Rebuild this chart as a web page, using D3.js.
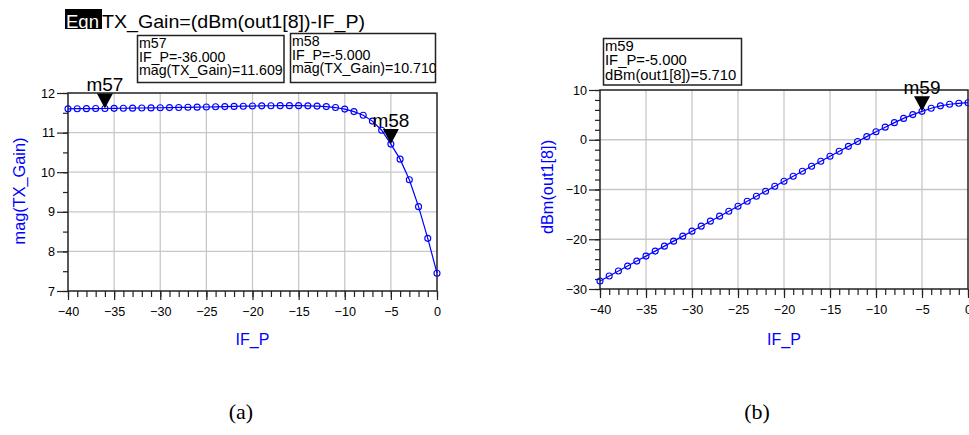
<!DOCTYPE html>
<html><head><meta charset="utf-8">
<script src="https://d3js.org/d3.v7.min.js"></script>
<style>
  body { margin: 0; background: #fff; }
  svg { font-family: "Liberation Sans", Arial, sans-serif; }
</style>
</head>
<body>
<div id="chart"></div>
<script>
// ---------------- data ----------------
var ifP = [-40,-39,-38,-37,-36,-35,-34,-33,-32,-31,-30,-29,-28,-27,-26,-25,-24,-23,-22,-21,
           -20,-19,-18,-17,-16,-15,-14,-13,-12,-11,-10,-9,-8,-7,-6,-5,-4,-3,-2,-1,0];

var txGain = [11.600,11.603,11.605,11.607,11.609,11.612,11.615,11.618,11.621,11.624,
              11.627,11.631,11.635,11.639,11.643,11.647,11.652,11.657,11.662,11.667,
              11.671,11.675,11.678,11.680,11.681,11.680,11.676,11.669,11.656,11.633,
              11.594,11.530,11.440,11.290,11.060,10.710,10.330,9.810,9.130,8.330,7.450];

var outDbm = [-28.400,-27.397,-26.395,-25.393,-24.391,-23.388,-22.385,-21.382,-20.379,-19.376,
              -18.373,-17.369,-16.365,-15.361,-14.357,-13.353,-12.348,-11.343,-10.338,-9.333,
              -8.329,-7.325,-6.322,-5.320,-4.319,-3.320,-2.324,-1.331,-0.344,0.633,
              1.594,2.530,3.440,4.290,5.060,5.710,6.330,6.810,7.130,7.330,7.450];

var xTicks = [-40,-35,-30,-25,-20,-15,-10,-5,0];
var gainTicks = [7,8,9,10,11,12];
var outTicks = [-30,-20,-10,0,10];

var markersA = [
  {name: "m57", x: -36, y: 11.609, lines: ["m57", "IF_P=-36.000", "mag(TX_Gain)=11.609"]},
  {name: "m58", x: -5, y: 10.710, lines: ["m58", "IF_P=-5.000", "mag(TX_Gain)=10.710"]}
];
var markersB = [
  {name: "m59", x: -5, y: 5.710, lines: ["m59", "IF_P=-5.000", "dBm(out1[8])=5.710"]}
];

var width = 969, height = 435;
var blue = "#0000ff";

var svg = d3.select("#chart").append("svg")
  .attr("width", width)
  .attr("height", height);

svg.append("rect").attr("width", width).attr("height", height).attr("fill", "#fff");

function panel(opt) {
  var x = d3.scaleLinear().domain([-40, 0]).range(opt.xr);
  var y = d3.scaleLinear().domain(opt.yd).range(opt.yr);
  var g = svg.append("g");

  // grid
  g.append("g").selectAll("line").data(xTicks.slice(1, -1)).enter().append("line")
    .attr("x1", d => x(d)).attr("x2", d => x(d))
    .attr("y1", opt.yr[0]).attr("y2", opt.yr[1])
    .attr("stroke", "#c8c8c8").attr("stroke-width", 1.3);
  g.append("g").selectAll("line").data(opt.yTicks.slice(1, -1)).enter().append("line")
    .attr("y1", d => y(d)).attr("y2", d => y(d))
    .attr("x1", opt.xr[0]).attr("x2", opt.xr[1])
    .attr("stroke", "#c8c8c8").attr("stroke-width", 1.3);

  // minor ticks
  var minorX = d3.range(-40, 1, 1);
  g.append("g").attr("transform", "translate(0," + opt.yr[0] + ")")
    .call(d3.axisBottom(x).tickValues(minorX).tickSize(6).tickFormat(""))
    .call(a => a.select(".domain").remove());
  g.append("g").attr("transform", "translate(" + opt.xr[0] + ",0)")
    .call(d3.axisLeft(y).tickValues(d3.range(opt.yd[0], opt.yd[1] + 0.001, opt.yMinor)).tickSize(5).tickFormat(""))
    .call(a => a.select(".domain").remove());

  // major ticks
  var ax = g.append("g").attr("transform", "translate(0," + opt.yr[0] + ")")
    .call(d3.axisBottom(x).tickValues(xTicks).tickSize(9).tickPadding(7).tickFormat(d3.format("d")));
  var ay = g.append("g").attr("transform", "translate(" + opt.xr[0] + ",0)")
    .call(d3.axisLeft(y).tickValues(opt.yTicks).tickSize(11).tickPadding(2).tickFormat(d3.format("d")));
  [ax, ay].forEach(function (a) {
    a.select(".domain").remove();
    a.attr("font-family", null).attr("font-size", null);
    a.selectAll("text").style("font-size", "12.6px").attr("fill", "#000");
  });
  g.selectAll(".tick line").attr("stroke", "#222").attr("stroke-width", 1.2);

  // frame
  g.append("rect")
    .attr("x", opt.xr[0]).attr("y", opt.yr[1])
    .attr("width", opt.xr[1] - opt.xr[0]).attr("height", opt.yr[0] - opt.yr[1])
    .attr("fill", "none").attr("stroke", "#222").attr("stroke-width", 1.5);

  // series
  var line = d3.line().x((d, i) => x(ifP[i])).y(d => y(d));
  g.append("path").datum(opt.values).attr("d", line)
    .attr("fill", "none").attr("stroke", blue).attr("stroke-width", 1.2);
  g.append("g").selectAll("circle").data(opt.values).enter().append("circle")
    .attr("cx", (d, i) => x(ifP[i])).attr("cy", d => y(d)).attr("r", 3)
    .attr("fill", "none").attr("stroke", blue).attr("stroke-width", 1.1);

  // axis titles
  g.append("text").attr("x", (opt.xr[0] + opt.xr[1]) / 2).attr("y", 345)
    .attr("text-anchor", "middle").style("font-size", "16px").attr("fill", blue).text("IF_P");
  g.append("text")
    .attr("transform", "translate(" + opt.ylx + "," + opt.yly + ") rotate(-90)")
    .attr("text-anchor", "middle").attr("dy", "0.35em")
    .style("font-size", "16.3px").attr("fill", blue).text(opt.yLabel);

  // markers
  opt.markers.forEach(function (m) {
    var px = x(m.x), py = y(m.y);
    g.append("path")
      .attr("d", "M" + (px - 8) + "," + (py - 15) + "L" + (px + 8) + "," + (py - 15) + "L" + px + "," + py + "Z")
      .attr("fill", "#000");
    g.append("text").attr("x", px).attr("y", py - 17.5)
      .attr("text-anchor", "middle").style("font-size", "19px").attr("fill", "#000").text(m.name);
  });

  return {x: x, y: y};
}

panel({xr: [68, 437], yd: [7, 12], yr: [291, 93], yTicks: gainTicks, yMinor: 0.5,
       values: txGain, yLabel: "mag(TX_Gain)", ylx: 19, yly: 191, markers: markersA});
panel({xr: [600, 968], yd: [-30, 10], yr: [289, 90], yTicks: outTicks, yMinor: 2,
       values: outDbm, yLabel: "dBm(out1[8])", ylx: 547, yly: 187, markers: markersB});

// marker readout boxes
var boxes = [
  {m: markersA[0], x: 137.5, y: 35.5, w: 146.5, h: 47, fs: 14.2, lh: 13.7},
  {m: markersA[1], x: 290.5, y: 33.5, w: 145, h: 49, fs: 14.2, lh: 13.7},
  {m: markersB[0], x: 603.5, y: 38.5, w: 138, h: 46.5, fs: 14.8, lh: 14.3}
];
var defs = svg.append("defs");
boxes.forEach(function (b, i) {
  defs.append("clipPath").attr("id", "clip" + i).append("rect")
    .attr("x", b.x).attr("y", b.y).attr("width", b.w).attr("height", b.h);
  svg.append("rect").attr("x", b.x).attr("y", b.y).attr("width", b.w).attr("height", b.h)
    .attr("fill", "#fff").attr("stroke", "#222").attr("stroke-width", 1.5);
  var t = svg.append("g").attr("clip-path", "url(#clip" + i + ")");
  b.m.lines.forEach(function (s, k) {
    t.append("text").attr("x", b.x + 1.5).attr("y", b.y + 12.5 + k * b.lh)
      .style("font-size", b.fs + "px").attr("fill", "#000").text(s);
  });
});

// equation title
svg.append("rect").attr("x", 65).attr("y", 9).attr("width", 37).attr("height", 20).attr("fill", "#000");
svg.append("text").attr("x", 66).attr("y", 28).style("font-size", "18.5px").attr("fill", "#fff").text("Eqn");
svg.append("text").attr("x", 102).attr("y", 28).style("font-size", "18.5px").attr("fill", "#000")
  .attr("textLength", 263).attr("lengthAdjust", "spacingAndGlyphs")
  .text("TX_Gain=(dBm(out1[8])-IF_P)");

// captions
svg.append("text").attr("x", 241).attr("y", 419).attr("text-anchor", "middle")
  .style("font-family", "'Liberation Serif', 'Times New Roman', serif").style("font-size", "22px").text("(a)");
svg.append("text").attr("x", 757).attr("y", 419).attr("text-anchor", "middle")
  .style("font-family", "'Liberation Serif', 'Times New Roman', serif").style("font-size", "22px").text("(b)");
</script>
</body></html>
